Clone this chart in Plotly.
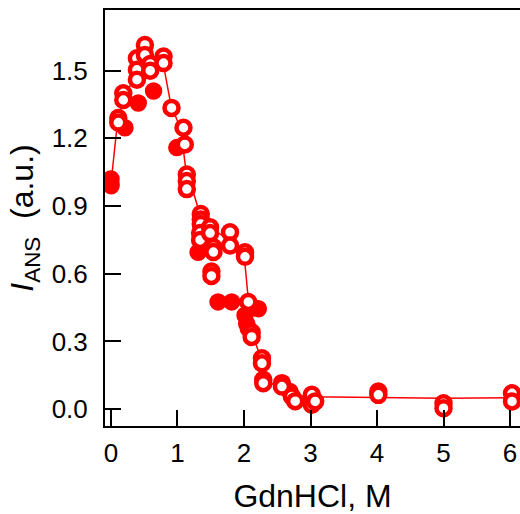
import plotly.graph_objects as go

# open circles (individual measurements)
open_x = [0.11, 0.11, 0.185, 0.185, 0.39, 0.39, 0.39, 0.51, 0.51, 0.59, 0.59,
          0.79, 0.79, 0.91, 1.09, 1.11, 1.14, 1.14, 1.14,
          1.35, 1.35, 1.35, 1.34, 1.34, 1.49, 1.49, 1.54, 1.54, 1.51, 1.51,
          1.79, 1.79, 2.015, 2.015, 2.065, 2.115, 2.115, 2.27, 2.27, 2.29, 2.29,
          2.57, 2.57, 2.72, 2.77, 3.02, 3.02, 3.07, 4.02, 4.02, 5.0, 5.0, 6.03, 6.03]
open_y = [1.29, 1.27, 1.40, 1.37, 1.555, 1.504, 1.46, 1.614, 1.57, 1.53, 1.50,
          1.563, 1.534, 1.335, 1.247, 1.173, 1.04, 1.011, 0.975,
          0.865, 0.84, 0.82, 0.78, 0.75, 0.806, 0.78, 0.717, 0.696, 0.61, 0.59,
          0.784, 0.725, 0.695, 0.675, 0.475, 0.34, 0.32, 0.225, 0.203, 0.13, 0.115,
          0.115, 0.10, 0.056, 0.035, 0.063, 0.019, 0.034, 0.078, 0.063, 0.026, 0.004, 0.07, 0.034]

# filled circles
fill_x = [0, 0, 0, 0.21, 0.41, 0.64, 0.99, 1.31, 1.61, 1.815, 2.215, 2.015, 2.04, 2.065, 2.69]
fill_y = [0.99, 1.0, 1.02, 1.247, 1.357, 1.41, 1.159, 0.695, 0.475, 0.475, 0.445, 0.416, 0.379, 0.357, 0.078]

# guide line through the data
line_x = [0, 0.1, 0.2, 0.4, 0.5, 0.6, 0.78, 0.9, 1.05, 1.13, 1.25, 1.35, 1.5, 1.79, 2.0,
          2.07, 2.12, 2.27, 2.3, 2.57, 2.72, 3.0, 4.0, 5.0, 6.0, 6.2]
line_y = [1.0, 1.28, 1.38, 1.5, 1.56, 1.54, 1.54, 1.35, 1.24, 1.05, 0.95, 0.85, 0.8, 0.75, 0.69,
          0.47, 0.34, 0.21, 0.12, 0.10, 0.06, 0.055, 0.05, 0.048, 0.05, 0.05]

red = "#ff0000"

fig = go.Figure()
fig.add_trace(go.Scatter(x=line_x, y=line_y, mode="lines",
                         line=dict(color=red, width=1.5), showlegend=False))
fig.add_trace(go.Scatter(x=fill_x, y=fill_y, mode="markers",
                         marker=dict(size=16, color=red, line=dict(color=red, width=1.5)),
                         showlegend=False))
fig.add_trace(go.Scatter(x=open_x, y=open_y, mode="markers",
                         marker=dict(size=14, color="white", line=dict(color=red, width=4.5)),
                         showlegend=False))

axis_font = dict(family="Liberation Sans, Arial", size=26, color="black")
title_font = dict(family="Liberation Sans, Arial", size=32, color="black")

fig.update_layout(
    width=520, height=514,
    margin=dict(l=105, r=0, t=10, b=86),
    plot_bgcolor="white", paper_bgcolor="white",
    xaxis=dict(range=[-0.09, 6.15], tickvals=[0, 1, 2, 3, 4, 5, 6],
               ticks="inside", ticklen=16, tickwidth=2, tickcolor="black",
               showline=True, linecolor="black", linewidth=2, mirror=True,
               showgrid=False, zeroline=False, tickfont=axis_font,
               ticklabelstandoff=3,
               title=dict(text="GdnHCl, M", font=title_font, standoff=23)),
    yaxis=dict(range=[-0.075, 1.769], tickvals=[0, 0.3, 0.6, 0.9, 1.2, 1.5],
               tickformat=".1f",
               ticks="inside", ticklen=16, tickwidth=2, tickcolor="black",
               showline=True, linecolor="black", linewidth=2, mirror=False,
               showgrid=False, zeroline=False, tickfont=axis_font,
               ticklabelstandoff=10,
               title=dict(text="<i>I</i><sub>ANS</sub>  (a.u.)", font=title_font, standoff=8)),
)

# drop the default 8px page margin so the figure fills the window edge to edge
fig.write_html("out.html", config={"displayModeBar": False},
               post_script="document.body.style.margin='0';")
